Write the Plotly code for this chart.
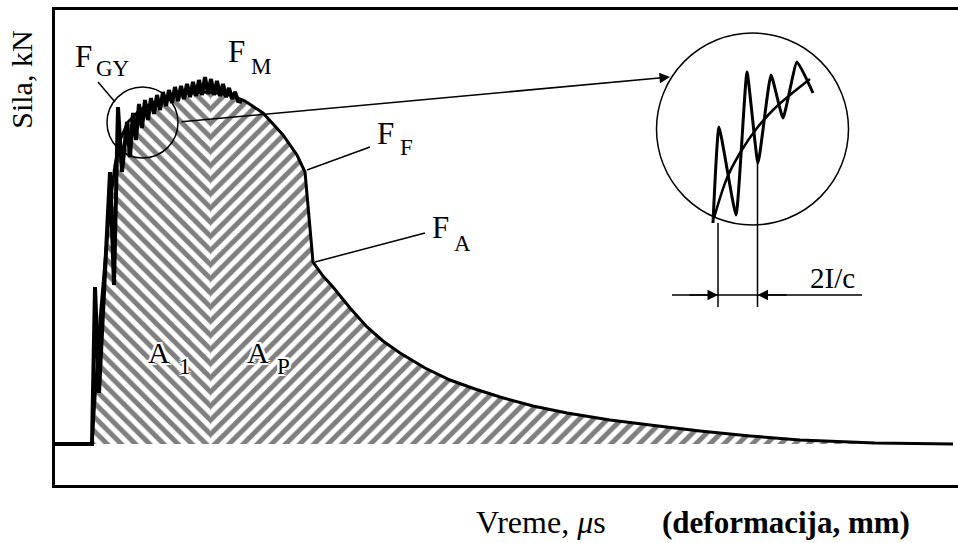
"""Charpy impact curve: force vs time with initiation / propagation areas."""
import plotly.graph_objects as go

SERIF = "Liberation Serif, Times New Roman, serif"

# smooth force envelope (time, force)
env_t = [0.0, 0.4, 0.8, 1.3, 1.8, 2.3, 2.8, 3.6, 4.8, 6.3, 7.8, 9.8, 11.8,
         13.8, 15.3, 17.1, 19.1, 20.5, 21.3, 22.1, 23.1, 24.1, 25.8, 27.5,
         29.1, 30.8, 33.3, 35.8, 38.3, 40.8, 44.1, 47.5, 51.8, 55.8, 60.8,
         65.8, 70.8, 78.3, 86.1]
env_f = [0.0, 6.4, 12.4, 18.2, 23.9, 27.9, 30.4, 32.2, 33.4, 34.2, 34.7, 35.1, 35.2,
         34.9, 34.3, 33.1, 30.9, 28.9, 27.2, 18.2, 16.8, 15.7, 13.6, 11.7,
         10.3, 9.1, 7.6, 6.4, 5.5, 4.7, 3.8, 3.1, 2.4, 1.9, 1.3,
         0.8, 0.4, 0.1, 0.0]
t_split = 11.8  # border between A1 and AP

# oscillating measured signal
osc_t = [-3.7, 0.0, 0.3, 0.7, 1.8, 2.2, 2.6, 3.0, 3.5, 3.8, 4.1, 4.4, 4.7, 5.0,
         5.3, 5.6, 5.9, 6.2, 6.5, 6.8, 7.1, 7.4, 7.7, 8.0, 8.3, 8.6, 8.9, 9.2,
         9.5, 9.8, 10.1, 10.4, 10.7, 11.0, 11.3, 11.6, 11.9, 12.2, 12.5, 12.8,
         13.1, 13.4, 13.7, 14.0, 14.3, 14.6, 15.0]
osc_f = [0.0, 0.0, 15.7, 5.1, 27.2, 15.9, 33.7, 27.2, 32.2, 28.7, 33.1, 30.4, 34.0, 31.6,
         34.4, 32.4, 34.6, 33.0, 34.9, 33.4, 35.2, 33.8, 35.4, 34.1, 35.7, 34.3, 35.8, 34.5,
         36.0, 34.7, 36.2, 34.8, 36.4, 34.9, 36.7, 35.0, 36.5, 34.9, 36.3, 34.8,
         36.0, 34.7, 35.6, 34.5, 35.2, 34.3, 34.2]

# magnified detail (inside the big circle)
zoom_osc_t = [62.1, 62.7, 64.4, 65.5, 66.6, 67.9, 69.1, 70.5, 72.1]
zoom_osc_f = [22.1, 31.7, 22.9, 37.2, 28.1, 36.9, 32.6, 38.2, 35.1]
zoom_mean_t = [62.2, 63.5, 64.8, 66.5, 68.1, 69.8, 71.8]
zoom_mean_f = [22.6, 26.6, 29.1, 31.6, 33.4, 34.9, 36.5]

i = env_t.index(t_split)
hatch = dict(size=10, solidity=0.5, fgcolor="black", bgcolor="white")

fig = go.Figure()
fig.add_scatter(x=env_t[:i + 1], y=env_f[:i + 1], mode="lines", fill="tozeroy",
                line=dict(width=0, color="black"),
                fillpattern=dict(shape="\\", **hatch), hoverinfo="skip")
fig.add_scatter(x=env_t[i:], y=env_f[i:], mode="lines", fill="tozeroy",
                line=dict(width=0, color="black"),
                fillpattern=dict(shape="/", **hatch), hoverinfo="skip")
fig.add_scatter(x=env_t, y=env_f, mode="lines", line=dict(width=3, color="black"))
fig.add_scatter(x=osc_t, y=osc_f, mode="lines", line=dict(width=4, color="black"))
fig.add_scatter(x=zoom_osc_t, y=zoom_osc_f, mode="lines",
                line=dict(width=3, color="black", shape="spline", smoothing=0.4))
fig.add_scatter(x=zoom_mean_t, y=zoom_mean_f, mode="lines",
                line=dict(width=2.5, color="black", shape="spline"))

thin = dict(color="black", width=1.5)
# circles
fig.add_shape(type="circle", x0=1.5, x1=8.6, y0=28.6, y1=35.7, line=thin)
fig.add_shape(type="circle", x0=56.45, x1=75.65, y0=21.9, y1=41.1, line=thin)
# leader lines
for x0, y0, x1, y1 in [(0.6, 36.2, 2.3, 34.2), (21.5, 27.4, 27.8, 29.7),
                       (22.3, 18.2, 33.3, 21.1),
                       (62.6, 22.1, 62.6, 13.7), (66.55, 28.1, 66.55, 13.7),
                       (58.0, 14.9, 77.0, 14.9)]:
    fig.add_shape(type="line", x0=x0, y0=y0, x1=x1, y1=y1, line=thin)

# arrows
for tip, tail in [((57.8, 36.7), (8.8, 32.2)), ((62.6, 14.9), (59.6, 14.9)),
                  ((66.55, 14.9), (69.6, 14.9))]:
    fig.add_annotation(x=tip[0], y=tip[1], ax=tail[0], ay=tail[1], xref="x", yref="y",
                       axref="x", ayref="y", text="", showarrow=True, arrowhead=2,
                       arrowsize=1.4, arrowwidth=1.5, arrowcolor="black")

halo = ", ".join(f"{dx}px {dy}px 0 white" for dx in (-2, 0, 2) for dy in (-2, 0, 2))
labels = [  # text, x, y, size, halo
    ("F", -0.9, 38.8, 31, False), ("GY", 2.1, 37.6, 23, False),
    ("F", 14.4, 39.3, 31, False), ("M", 16.9, 37.8, 23, False),
    ("F", 29.3, 31.1, 31, False), ("F", 31.4, 29.7, 23, False),
    ("F", 34.8, 21.7, 31, False), ("A", 37.0, 20.1, 23, False),
    ("A", 6.7, 9.2, 30, True), ("1", 9.3, 7.8, 23, True),
    ("A", 16.6, 9.2, 30, True), ("P", 19.1, 7.8, 23, True),
    ("2I/c", 74.0, 16.6, 29, False),
]
for txt, x, y, s, h in labels:
    font = dict(family=SERIF, size=s, color="black")
    if h:
        font["shadow"] = halo
    fig.add_annotation(x=x, y=y, xref="x", yref="y", text=txt, showarrow=False,
                       font=font)

page = dict(xref="paper", yref="paper", showarrow=False,
            xanchor="center", yanchor="middle")
fig.add_annotation(x=0.538, y=-0.078, text="Vreme, <i>μ</i>s",
                   font=dict(family=SERIF, size=32, color="black"), **page)
fig.add_annotation(x=0.8095, y=-0.078, text="<b>(deformacija, mm)</b>",
                   font=dict(family=SERIF, size=31, color="black"), **page)
fig.add_annotation(x=-0.0366, y=0.853, text="Sila, kN", textangle=-90,
                   font=dict(family=SERIF, size=30, color="black"), **page)

frame = dict(showgrid=False, zeroline=False, showticklabels=False, ticks="",
             showline=True, linewidth=3, linecolor="black")
fig.update_xaxes(range=[-3.7, 86.6], mirror=True, **frame)
fig.update_yaxes(range=[-4.1, 43.4], mirror=False, **frame)
fig.update_layout(width=958, height=543, showlegend=False,
                  margin=dict(l=55, r=0, t=10, b=58),
                  plot_bgcolor="white", paper_bgcolor="white")
# drop the default body margin so the figure fills the window exactly
fig.write_html("out.html", config={"displayModeBar": False},
               post_script="document.body.style.margin = '0';")
